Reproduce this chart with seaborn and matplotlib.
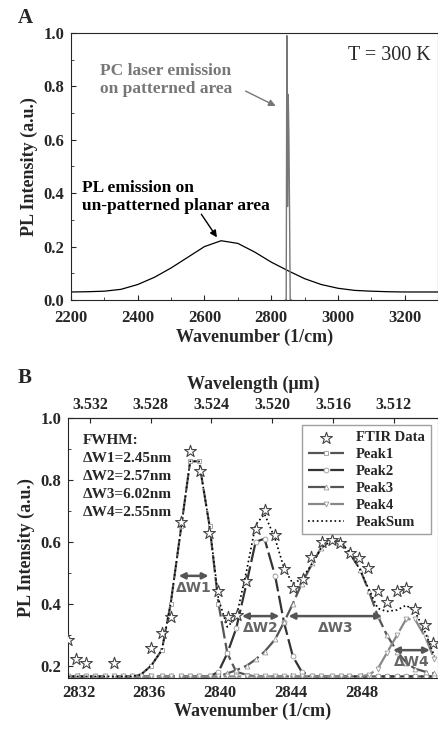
import numpy as np
import pandas as pd
import seaborn as sns
import matplotlib.pyplot as plt
from matplotlib.ticker import AutoMinorLocator

# panel A
pl_wn = [2200, 2250, 2300, 2350, 2400, 2450, 2500, 2550, 2600, 2650, 2700, 2750, 2800,
         2850, 2900, 2950, 3000, 3050, 3100, 3150, 3200, 3300]
pl_int = [0.030, 0.031, 0.033, 0.040, 0.058, 0.085, 0.120, 0.160, 0.200, 0.222, 0.212, 0.180,
          0.142, 0.110, 0.080, 0.058, 0.044, 0.036, 0.033, 0.031, 0.030, 0.030]
laser_wn = [2843, 2845, 2847, 2849, 2851, 2853, 2855, 2857, 2859, 2861]
laser_int = [0.0, 0.0, 0.99, 0.35, 0.77, 0.62, 0.34, 0.0, 0.0, 0.0]

# panel B
ftir_wn = [2831.40, 2831.87, 2832.40, 2834.00, 2836.11, 2836.71, 2837.24, 2837.77, 2838.29,
           2838.84, 2839.37, 2839.90, 2840.41, 2840.93, 2841.48, 2842.01, 2842.52, 2843.08,
           2843.59, 2844.12, 2844.65, 2845.15, 2845.72, 2846.29, 2846.79, 2847.32, 2847.85,
           2848.36, 2848.92, 2849.43, 2849.96, 2850.49, 2851.00, 2851.56, 2852.03]
ftir_int = [0.284, 0.221, 0.208, 0.208, 0.258, 0.305, 0.356, 0.665, 0.895, 0.830, 0.630, 0.442,
            0.356, 0.362, 0.472, 0.642, 0.703, 0.623, 0.511, 0.451, 0.479, 0.550, 0.598, 0.605,
            0.595, 0.565, 0.547, 0.514, 0.442, 0.405, 0.442, 0.451, 0.382, 0.332, 0.274]
fit_wn = [2831.4, 2831.9, 2832.4, 2832.9, 2833.5, 2834.0, 2834.5, 2835.0, 2835.5, 2836.1, 2836.7,
          2837.2, 2837.8, 2838.3, 2838.8, 2839.4, 2839.9, 2840.4, 2840.9, 2841.5, 2842.0, 2842.5,
          2843.1, 2843.6, 2844.1, 2844.6, 2845.2, 2845.7, 2846.3, 2846.8, 2847.3, 2847.9, 2848.4,
          2848.9, 2849.4, 2850.0, 2850.5, 2851.0, 2851.6, 2852.1]
peak1 = [0.165] * 8 + [0.17, 0.20, 0.25, 0.40, 0.65, 0.86, 0.86, 0.65, 0.40, 0.24, 0.18, 0.17] + [0.165] * 20
peak2 = [0.165] * 15 + [0.165, 0.18, 0.24, 0.32, 0.47, 0.60, 0.61, 0.49, 0.34, 0.23, 0.18, 0.165] + [0.165] * 13
peak3 = [0.165] * 17 + [0.175, 0.185, 0.20, 0.22, 0.245, 0.285, 0.34, 0.40, 0.465, 0.53, 0.58, 0.605,
                        0.60, 0.565, 0.51, 0.44, 0.36, 0.30, 0.245, 0.21, 0.19, 0.18, 0.175]
peak4 = [0.165] * 32 + [0.17, 0.19, 0.24, 0.30, 0.35, 0.35, 0.29, 0.22]
base = 0.165
peaksum = [a + b + c + d - 3 * base for a, b, c, d in zip(peak1, peak2, peak3, peak4)]

top_ticks = [3.532, 3.528, 3.524, 3.520, 3.516, 3.512]

sns.set_style('ticks')
plt.rcParams['font.family'] = ['Liberation Serif', 'DejaVu Serif']
plt.rcParams['font.weight'] = 'bold'
plt.rcParams['axes.labelweight'] = 'bold'

W, H = 438, 737
fig = plt.figure(figsize=(W / 100, H / 100), dpi=100)
axA = fig.add_axes([71 / W, 1 - 300 / H, (438 - 71) / W, (300 - 33) / H])
axB = fig.add_axes([68 / W, 1 - 678 / H, (438 - 68) / W, (678 - 418) / H])

sns.lineplot(x=pl_wn, y=pl_int, ax=axA, color='black', lw=0.9, sort=False)
sns.lineplot(x=laser_wn, y=laser_int, ax=axA, color='#777777', lw=1.0, sort=False)
axA.set_xlim(2200, 3300)
axA.set_ylim(0, 1.0)
axA.set_xticks(range(2200, 3300, 200))
axA.set_yticks(np.arange(0, 1.01, 0.2))
axA.set_yticklabels(['0.0', '0.2', '0.4', '0.6', '0.8', '1.0'])
axA.set_xlabel('Wavenumber (1/cm)', fontsize=13, labelpad=2)
axA.set_ylabel('PL Intensity (a.u.)', fontsize=13)
axA.text(0.98, 0.9, 'T = 300 K', transform=axA.transAxes, ha='right', fontsize=14.5, fontweight='normal')
axA.text(2287, 0.825, 'PC laser emission\non patterned area', color='#777777', fontsize=12.5,
         ha='left', va='center', linespacing=1.15)
axA.annotate('', xy=(2821, 0.722), xytext=(2716, 0.787),
             arrowprops=dict(arrowstyle='-|>', color='#777777', lw=1))
axA.text(2233, 0.385, 'PL emission on\nun-patterned planar area', color='black', fontsize=12.5,
         ha='left', va='center', linespacing=1.15)
axA.annotate('', xy=(2642, 0.226), xytext=(2586, 0.33),
             arrowprops=dict(arrowstyle='-|>', color='black', lw=1))

styles = [(peak1, 's', '#555555', 'Peak1'), (peak2, 'o', '#333333', 'Peak2'),
          (peak3, '^', '#555555', 'Peak3'), (peak4, 'v', '#888888', 'Peak4')]
sns.scatterplot(x=ftir_wn, y=ftir_int, ax=axB, marker='*', s=80, facecolor='white',
                edgecolor='#444444', linewidth=0.8, label='FTIR Data', zorder=4)
for ys, mk, col, name in styles:
    axB.plot(fit_wn, ys, color=col, lw=1.6, ls=(0, (8, 2)), marker=mk, ms=3.5,
             mfc='white', mec='#999999', mew=0.6, label=name)
axB.plot(fit_wn, peaksum, color='black', lw=1.2, ls=':', label='PeakSum', zorder=3)
axB.set_xlim(2831.4, 2852.3)
axB.set_ylim(0.16, 1.0)
axB.set_xticks([2832, 2836, 2840, 2844, 2848])
axB.set_yticks([0.2, 0.4, 0.6, 0.8, 1.0])
axB.set_yticklabels(['0.2', '0.4', '0.6', '0.8', '1.0'])
axB.set_xlabel('Wavenumber (1/cm)', fontsize=13, labelpad=1)
axB.set_ylabel('PL Intensity (a.u.)', fontsize=13)

top = axB.secondary_xaxis('top', functions=(lambda x: (2832.64 - x) / 858.0 + 3.532,
                                            lambda l: 2832.64 - (l - 3.532) * 858.0))
top.set_xticks(top_ticks)
top.set_xticklabels([f'{t:.3f}' for t in top_ticks])
top.set_xlabel('Wavelength (\u03bcm)', fontsize=13, labelpad=6)
for lab in top.get_xticklabels():
    lab.set_fontsize(11.5)
    lab.set_fontweight('bold')

axB.text(0.04, 0.94, 'FWHM:\n\u0394W1=2.45nm\n\u0394W2=2.57nm\n\u0394W3=6.02nm\n\u0394W4=2.55nm',
         transform=axB.transAxes, va='top', ha='left', fontsize=11, linespacing=1.5)
arrows = [(2837.5, 2839.5, 0.49, '\u0394W1'), (2841.07, 2843.5, 0.36, '\u0394W2'),
          (2843.7, 2849.3, 0.36, '\u0394W3'), (2849.6, 2852.0, 0.25, '\u0394W4')]
for x0, x1, yv, lab in arrows:
    axB.annotate('', xy=(x0, yv), xytext=(x1, yv),
                 arrowprops=dict(arrowstyle='<|-|>', color='#555555', lw=1.8, mutation_scale=9))
    axB.text((x0 + x1) / 2, yv - 0.015, lab, ha='center', va='top', fontsize=10,
             color='#666666', family=['DejaVu Sans'], fontweight='bold')

leg = axB.legend(loc='upper right', fontsize=10.5, frameon=True, fancybox=False,
                 handlelength=2.5, borderpad=0.4, labelspacing=0.25)
leg.get_frame().set_edgecolor('#888888')

for ax in (axA, axB):
    ax.tick_params(direction='in', labelsize=12, top=False, right=False, pad=5)
    ax.xaxis.set_minor_locator(AutoMinorLocator(2))
    ax.yaxis.set_minor_locator(AutoMinorLocator(2))
    ax.tick_params(which='minor', direction='in', length=2)
    for lab in ax.get_xticklabels() + ax.get_yticklabels():
        lab.set_fontweight('bold')
axA.tick_params(axis='x', pad=7)
top.tick_params(direction='in')

fig.text(18 / W, 1 - 18 / H, 'A', fontsize=15, fontweight='bold', va='center')
fig.text(18 / W, 1 - 378 / H, 'B', fontsize=15, fontweight='bold', va='center')

fig.savefig('out.png', dpi=100)
